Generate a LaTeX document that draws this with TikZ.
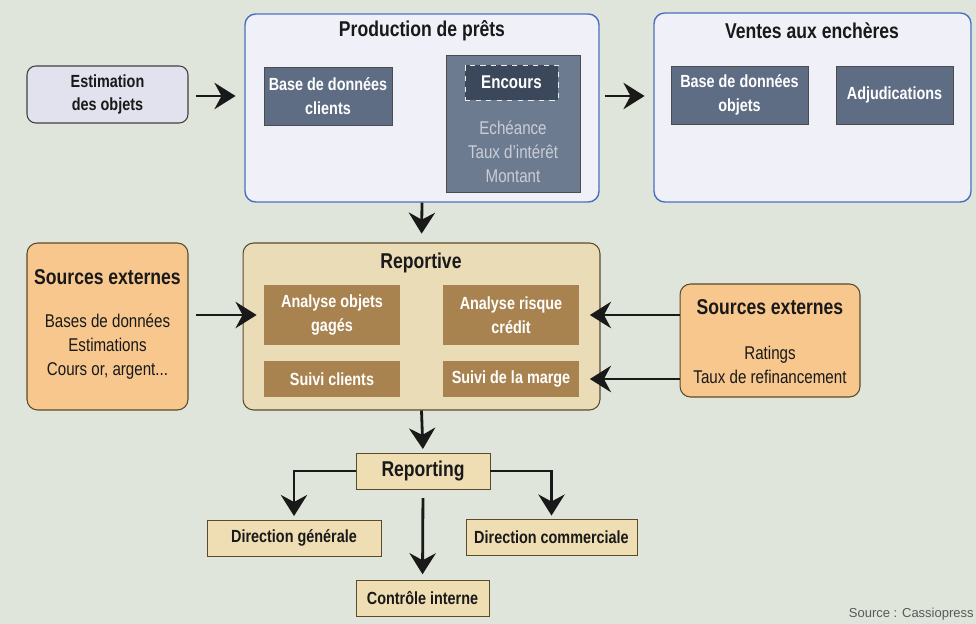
\documentclass[tikz,border=0pt]{standalone}
\usepackage{fontspec}
\setmainfont{Liberation Sans}[FakeStretch=0.82]
\newfontfamily\plainsans{Liberation Sans}
\usetikzlibrary{positioning}
\usetikzlibrary{calc}
\usetikzlibrary{arrows.meta}

\definecolor{sage}{HTML}{DFE5DA}
\definecolor{lilac}{HTML}{E2E2EE}
\definecolor{paleblue}{HTML}{F0F0F8}
\definecolor{frameblue}{HTML}{4A6FC0}
\definecolor{slate}{HTML}{5E6D84}
\definecolor{slatelight}{HTML}{6D7B90}
\definecolor{slatedark}{HTML}{3B485C}
\definecolor{greytext}{HTML}{C9CED8}
\definecolor{beige}{HTML}{E9DCB7}
\definecolor{brownbox}{HTML}{A8834F}
\definecolor{orange}{HTML}{F7C78E}
\definecolor{wheat}{HTML}{EFDEB3}
\definecolor{brownline}{HTML}{5A4A2A}

\begin{document}
\begin{tikzpicture}[x=0.02cm, y=-0.02cm,
        every node/.style={inner sep=0pt, align=center, text=black!90},
        txt/.style={font=\fontsize{10.5}{13.6}\selectfont},
        head/.style={font=\bfseries\fontsize{12.2}{13.6}\selectfont},
        sub_head/.style={font=\bfseries\fontsize{10}{13.6}\selectfont},
        white_box/.style={font=\bfseries\fontsize{10}{13.6}\selectfont, text=white},
        lilac_box/.style={draw=black!75, fill=lilac, rounded corners=5pt, line width=0.6pt},
        group_box/.style={draw=frameblue, fill=paleblue, rounded corners=6pt, line width=0.8pt},
        slate_box/.style={white_box, draw=black!70, fill=slate, line width=0.5pt},
        beige_box/.style={draw=brownline, fill=beige, rounded corners=6pt, line width=0.6pt},
        brown_box/.style={white_box, fill=brownbox},
        orange_box/.style={draw=brownline, fill=orange, rounded corners=6pt, line width=0.6pt},
        wheat_box/.style={sub_head, draw=brownline, fill=wheat, line width=0.5pt, minimum height=0.72cm},
        arr/.style={-{Stealth[length=12pt, width=15pt, inset=4pt]}, line width=1.6pt, black!90}]

        \fill[sage] (0,0) rectangle (976,624);
        \useasboundingbox (0,0) rectangle (976,624);

        \node[lilac_box, sub_head, minimum width=3.22cm, minimum height=1.14cm] (est_obj) at (107.5,94.5) {Estimation\\des objets};

        \node[group_box, minimum width=7.08cm, minimum height=3.76cm] (prod) at (422,108) {};
        \node[head] (prod_title) at (422,31) {Production de prêts};
        \node[slate_box, minimum width=2.56cm, minimum height=1.16cm] (bd_clients) at (328,96) {Base de données\\clients};
        \node[draw=black!70, fill=slatelight, line width=0.5pt, minimum width=2.68cm, minimum height=2.74cm] (encours_box) at (513,123.5) {};
        \node[white_box, font=\bfseries\fontsize{10.5}{13.6}\selectfont, draw=white!85!gray, dashed, fill=slatedark, line width=0.5pt, minimum width=1.86cm, minimum height=0.7cm] (encours) at (511.5,82.5) {Encours};
        \node[txt, text=greytext] (encours_det) at (513,152) {Echéance\\Taux d'intérêt\\Montant};

        \node[group_box, minimum width=6.34cm, minimum height=3.78cm] (ventes) at (812.5,107.5) {};
        \node[head] (ventes_title) at (812,31) {Ventes aux enchères};
        \node[slate_box, minimum width=2.74cm, minimum height=1.16cm] (bd_objets) at (739.5,95) {Base de données\\objets};
        \node[slate_box, minimum width=2.34cm, minimum height=1.16cm] (adjud) at (894.5,95) {Adjudications};

        \node[beige_box, minimum width=7.14cm, minimum height=3.34cm] (reportive) at (421.5,326.5) {};
        \node[head] (reportive_title) at (421,263) {Reportive};
        \node[brown_box, minimum width=2.72cm, minimum height=1.2cm] (an_objets) at (332,315) {Analyse objets\\gagés};
        \node[brown_box, minimum width=2.72cm, minimum height=1.2cm] (an_risque) at (511,315) {Analyse risque\\crédit};
        \node[brown_box, minimum width=2.72cm, minimum height=0.72cm] (suivi_cl) at (332,379) {Suivi clients};
        \node[brown_box, minimum width=2.72cm, minimum height=0.72cm] (suivi_marge) at (511,379) {Suivi de la marge};

        \node[orange_box, minimum width=3.22cm, minimum height=3.34cm] (src_l) at (107.5,326.5) {};
        \node[head] (src_l_title) at (107.5,277) {Sources externes};
        \node[txt] (src_l_list) at (107.5,347) {Bases de données\\Estimations\\Cours or, argent...};

        \node[orange_box, minimum width=3.6cm, minimum height=2.26cm] (src_r) at (770,340.5) {};
        \node[head] (src_r_title) at (770,307) {Sources externes};
        \node[txt] (src_r_list) at (770,365) {Ratings\\Taux de refinancement};

        \node[wheat_box, head, minimum width=2.68cm] (reporting) at (423,471) {Reporting};
        \node[wheat_box, minimum width=3.48cm] (dir_gen) at (294,538) {Direction générale};
        \node[wheat_box, minimum width=3.42cm] (dir_com) at (551.5,537.5) {Direction commerciale};
        \node[wheat_box, minimum width=2.66cm] (ctrl_int) at (422.5,598) {Contrôle interne};

        \node[anchor=east, font=\plainsans\fontsize{7.4}{8}\selectfont, text=black!65] (source) at (974,614) {Source : Cassiopress};

        \draw[arr, shorten <=4, shorten >=5] (est_obj.east |- bd_clients) -- (prod.west |- bd_clients);
        \draw[arr, shorten <=3, shorten >=5] (prod.east |- bd_clients) -- (ventes.west |- bd_clients);
        \draw[arr, shorten >=5] (prod.south) -- (reportive.north);
        \draw[arr, shorten <=4, shorten >=4] (src_l.east |- an_objets) -- (an_objets.west);
        \draw[arr, shorten >=6] (src_r.west |- an_risque) -- (an_risque.east);
        \draw[arr, shorten >=6] (src_r.west |- suivi_marge) -- (suivi_marge.east);
        \draw[arr, shorten >=2] (reportive.south) -- (reporting.north);
        \draw[arr, shorten >=2] (reporting.west) -| (dir_gen.north);
        \draw[arr, shorten >=2] (reporting.east) -| (dir_com.north);
        \draw[arr, shorten <=5, shorten >=3] (reporting.south) -- (ctrl_int.north);
\end{tikzpicture}
\end{document}
